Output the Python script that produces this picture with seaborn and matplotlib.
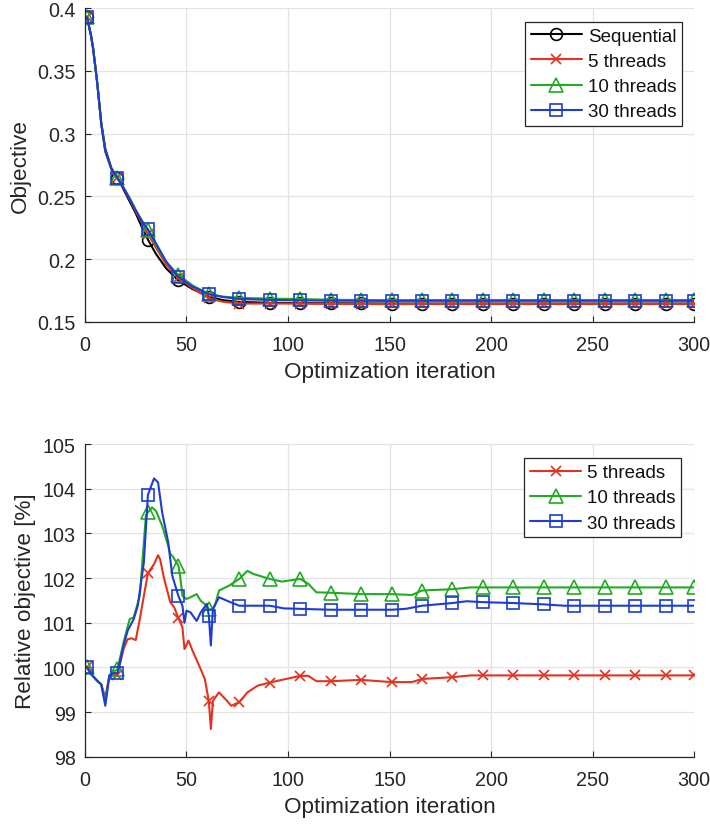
import matplotlib
matplotlib.use("Agg")
import matplotlib.pyplot as plt
from matplotlib.lines import Line2D
import seaborn as sns

# ---------------- data ----------------
top_it = [1, 3, 4, 6, 8, 10, 13, 16, 19, 22, 25, 28, 31, 35, 40, 46, 53, 61, 68, 76,
          91, 106, 121, 136, 151, 166, 181, 196, 211, 226, 241, 256, 271, 286, 300]
seq_top = [0.393, 0.378, 0.368, 0.341, 0.309, 0.288, 0.2725, 0.2650, 0.2555, 0.2460,
           0.2365, 0.2255, 0.2155, 0.2040, 0.1925, 0.1830, 0.1760, 0.1700, 0.1672, 0.1658,
           0.1651, 0.1648, 0.1647, 0.1646, 0.1645, 0.1645, 0.1645, 0.1645, 0.1645, 0.1645,
           0.1645, 0.1645, 0.1645, 0.1645, 0.1645]
t5_top = [0.393, 0.378, 0.368, 0.341, 0.308, 0.286, 0.2718, 0.2646, 0.2566, 0.2476,
          0.2380, 0.2290, 0.2200, 0.2090, 0.1955, 0.1850, 0.1767, 0.1687, 0.1659, 0.1645,
          0.1645, 0.1645, 0.1642, 0.1642, 0.1640, 0.1642, 0.1642, 0.1642, 0.1642, 0.1642,
          0.1642, 0.1642, 0.1642, 0.1642, 0.1642]
t10_top = [0.393, 0.378, 0.368, 0.341, 0.308, 0.286, 0.2719, 0.2649, 0.2570, 0.2487,
           0.2390, 0.2310, 0.2230, 0.2110, 0.1975, 0.1872, 0.1789, 0.1722, 0.1700, 0.1691,
           0.1684, 0.1681, 0.1675, 0.1673, 0.1672, 0.1673, 0.1673, 0.1673, 0.1673, 0.1673,
           0.1673, 0.1673, 0.1673, 0.1673, 0.1673]
t30_top = [0.393, 0.378, 0.368, 0.341, 0.308, 0.286, 0.2718, 0.2647, 0.2568, 0.2480,
           0.2390, 0.2300, 0.2238, 0.2125, 0.1980, 0.1859, 0.1780, 0.1720, 0.1697, 0.1681,
           0.1674, 0.1670, 0.1668, 0.1667, 0.1666, 0.1667, 0.1667, 0.1667, 0.1667, 0.1667,
           0.1667, 0.1667, 0.1667, 0.1667, 0.1667]

t5_it = [1, 3, 6, 8, 10, 12, 16, 19, 21, 23, 25, 27, 29, 31, 34, 36, 37, 39, 42, 44,
         46, 48, 49, 51, 53, 57, 59, 61, 62, 63, 66, 70, 72, 76, 80, 85, 91, 99, 106, 110,
         114, 121, 136, 151, 161, 166, 181, 190, 196, 211, 226, 241, 256, 271, 286, 300]
t5_rel = [100.0, 99.85, 99.70, 99.62, 99.33, 99.81, 99.83, 100.41, 100.63, 100.65,
          100.61, 101.08, 101.60, 102.11, 102.31, 102.51, 102.42, 101.98, 101.46, 101.34,
          101.10, 100.90, 100.41, 100.60, 100.37, 99.96, 99.74, 99.25, 98.62, 99.25,
          99.44, 99.25, 99.14, 99.22, 99.44, 99.59, 99.66, 99.74, 99.81, 99.81,
          99.69, 99.69, 99.72, 99.67, 99.67, 99.74, 99.78, 99.82, 99.82, 99.82,
          99.82, 99.82, 99.82, 99.82, 99.82, 99.82]

t10_it = [1, 3, 6, 8, 10, 12, 16, 19, 22, 24, 27, 28, 30, 31, 33, 35, 38, 41, 42, 43,
          46, 47, 48, 50, 52, 55, 57, 60, 61, 63, 64, 66, 71, 76, 80, 83, 91, 97, 106, 110,
          114, 121, 136, 151, 161, 166, 181, 190, 196, 211, 226, 241, 256, 271, 286, 300]
t10_rel = [100.0, 99.85, 99.70, 99.62, 99.20, 99.83, 99.96, 100.56, 101.08, 101.12,
           101.60, 102.20, 103.40, 103.47, 103.58, 103.50, 103.17, 102.72, 102.54, 102.50,
           102.28, 102.00, 101.60, 101.53, 101.57, 101.64, 101.49, 101.38, 101.30, 101.30,
           101.38, 101.72, 101.83, 101.98, 102.16, 102.09, 101.98, 101.92, 101.98, 101.87,
           101.68, 101.67, 101.64, 101.64, 101.62, 101.72, 101.75, 101.79, 101.79, 101.79,
           101.79, 101.79, 101.79, 101.79, 101.79, 101.79]

t30_it = [1, 3, 6, 8, 10, 12, 14, 16, 19, 21, 24, 26, 29, 31, 34, 36, 38, 41, 43, 44,
          46, 48, 49, 50, 52, 55, 57, 60, 61, 62, 63, 66, 70, 76, 83, 91, 98, 106, 121, 136,
          151, 158, 166, 181, 188, 196, 211, 226, 236, 241, 256, 271, 286, 300]
t30_rel = [100.0, 99.85, 99.70, 99.62, 99.14, 99.81, 99.87, 99.87, 100.49, 100.82,
           101.08, 101.38, 102.35, 103.86, 104.23, 104.14, 103.47, 102.80, 102.05, 101.90,
           101.60, 101.38, 101.00, 101.27, 101.23, 101.04, 101.23, 101.42, 101.16, 100.49,
           101.31, 101.57, 101.49, 101.38, 101.38, 101.38, 101.32, 101.31, 101.29, 101.29,
           101.29, 101.31, 101.38, 101.44, 101.48, 101.46, 101.44, 101.41, 101.38, 101.38,
           101.38, 101.38, 101.38, 101.38]

marker_its = [1, 16, 31, 46, 61, 76, 91, 106, 121, 136, 151, 166, 181, 196, 211,
              226, 241, 256, 271, 286, 300]

series_names = ["Sequential", "5 threads", "10 threads", "30 threads"]
x_ticks = [0, 50, 100, 150, 200, 250, 300]
top_yticks = [0.15, 0.2, 0.25, 0.3, 0.35, 0.4]
top_yticklabels = ["0.15", "0.2", "0.25", "0.3", "0.35", "0.4"]
bot_yticks = [98, 99, 100, 101, 102, 103, 104, 105]

# ---------------- style ----------------
sns.set_theme(style="whitegrid")
plt.rcParams["font.family"] = ["Liberation Sans", "DejaVu Sans"]

C_SEQ = "#000000"
C_5 = "#E3321E"
C_10 = "#22AA22"
C_30 = "#1C3CD4"
DARK = "#262626"
LW = 1.5
MEW = 1.2

styles = {
    "Sequential": (C_SEQ, "o", 8.5),
    "5 threads": (C_5, "x", 6.5),
    "10 threads": (C_10, "^", 9.5),
    "30 threads": (C_30, "s", 8.5),
}

fig = plt.figure(figsize=(7.10, 8.29), dpi=100)
ax1 = fig.add_axes([0.1197, 0.6107, 0.8578, 0.3781])
ax2 = fig.add_axes([0.1197, 0.0860, 0.8578, 0.3772])


def draw(ax, it, val, name):
    color, marker, ms = styles[name]
    marks = [i for i, x in enumerate(it) if x in marker_its]
    sns.lineplot(x=it, y=val, ax=ax, color=color, linewidth=LW,
                 marker=marker, markevery=marks, markersize=ms,
                 markerfacecolor="none", markeredgecolor=color,
                 markeredgewidth=MEW, estimator=None, sort=False,
                 errorbar=None, legend=False)


def handle(name):
    color, marker, ms = styles[name]
    return Line2D([], [], color=color, lw=LW, marker=marker, markersize=ms,
                  markerfacecolor="none", markeredgecolor=color, markeredgewidth=MEW)


draw(ax1, top_it, seq_top, "Sequential")
draw(ax1, top_it, t5_top, "5 threads")
draw(ax1, top_it, t10_top, "10 threads")
draw(ax1, top_it, t30_top, "30 threads")

draw(ax2, t5_it, t5_rel, "5 threads")
draw(ax2, t10_it, t10_rel, "10 threads")
draw(ax2, t30_it, t30_rel, "30 threads")


def style_axes(ax):
    ax.set_facecolor("white")
    for s in ["top", "right"]:
        ax.spines[s].set_visible(False)
    for s in ["left", "bottom"]:
        ax.spines[s].set_visible(True)
        ax.spines[s].set_color(DARK)
        ax.spines[s].set_linewidth(0.9)
    ax.grid(True, color="#e3e3e3", linewidth=0.9)
    ax.set_axisbelow(True)
    ax.tick_params(axis="both", direction="in", length=4.5, width=0.8,
                   color=DARK, labelcolor=DARK, labelsize=14.2,
                   bottom=True, left=True, top=False, right=False)
    ax.tick_params(axis="x", pad=9.5)
    ax.tick_params(axis="y", pad=6.5)
    ax.set_xlim(0, 300)
    ax.set_xticks(x_ticks)
    ax.set_xlabel("Optimization iteration", fontsize=16.2, color=DARK, labelpad=5)


style_axes(ax1)
ax1.set_ylim(0.15, 0.4)
ax1.set_yticks(top_yticks)
ax1.set_yticklabels(top_yticklabels)
ax1.set_ylabel("Objective", fontsize=16.2, color=DARK, labelpad=5)

style_axes(ax2)
ax2.set_ylim(98, 105)
ax2.set_yticks(bot_yticks)
ax2.set_ylabel("Relative objective [%]", fontsize=16.2, color=DARK, labelpad=5)

leg_kw = dict(loc="upper right", frameon=True, fancybox=False, framealpha=1,
              edgecolor=DARK, fontsize=13.5, handlelength=2.75, labelspacing=0.43,
              borderpad=0.3, handletextpad=0.3, borderaxespad=0)
l1 = ax1.legend([handle(n) for n in series_names], series_names,
                bbox_to_anchor=(0.980, 0.956), **leg_kw)
l1.get_frame().set_linewidth(0.9)
for t in l1.get_texts():
    t.set_color("#111111")
l2 = ax2.legend([handle(n) for n in series_names[1:]], series_names[1:],
                bbox_to_anchor=(0.979, 0.954), **leg_kw)
l2.get_frame().set_linewidth(0.9)
for t in l2.get_texts():
    t.set_color("#111111")

fig.savefig("out.png", dpi=100)
